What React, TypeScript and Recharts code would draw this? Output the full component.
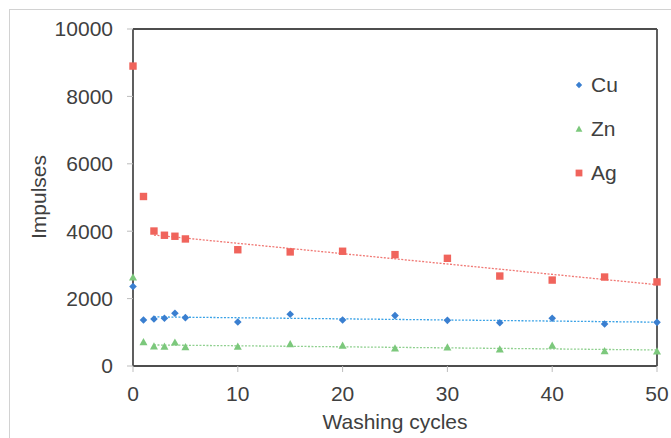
import React from 'react';
import {
  ComposedChart, Scatter, Line, XAxis, YAxis, ReferenceLine, Label,
} from 'recharts';

// washing cycles
const CYCLES = [0, 1, 2, 3, 4, 5, 10, 15, 20, 25, 30, 35, 40, 45, 50];

// impulses per element
const CU = [2360, 1365, 1395, 1415, 1565, 1435, 1305, 1535, 1365, 1495, 1355, 1285, 1415, 1245, 1295];
const ZN = [2630, 710, 585, 575, 700, 565, 575, 655, 605, 525, 555, 495, 605, 445, 435];
const AG = [8900, 5030, 4005, 3880, 3850, 3770, 3450, 3385, 3405, 3305, 3195, 2670, 2550, 2640, 2495];

const X_TICKS = [0, 10, 20, 30, 40, 50];
const Y_TICKS = [0, 2000, 4000, 6000, 8000, 10000];

// trend lines are fitted from cycle 2 on
const TREND_FROM = 2;

const FONT = '"Liberation Sans", Arial, sans-serif';
const TEXT = '#404040';
const FRAME = '#4d4d4d';
const TICK = '#bdbdbd';

const COLORS = {
  Cu: { mark: '#3a7fd0', trend: '#3aa2e6' },
  Zn: { mark: '#7cc87c', trend: '#8fd08f' },
  Ag: { mark: '#f0645c', trend: '#f07874' },
};

function toPoints(ys: number[]) {
  return CYCLES.map((x, i) => ({ x, y: ys[i] }));
}

// least squares fit over the points from TREND_FROM on
function trend(ys: number[]) {
  const pts = toPoints(ys).filter((p) => p.x >= TREND_FROM);
  const n = pts.length;
  const mx = pts.reduce((s, p) => s + p.x, 0) / n;
  const my = pts.reduce((s, p) => s + p.y, 0) / n;
  let sxy = 0;
  let sxx = 0;
  pts.forEach((p) => {
    sxy += (p.x - mx) * (p.y - my);
    sxx += (p.x - mx) * (p.x - mx);
  });
  const b = sxy / sxx;
  const a = my - b * mx;
  const x0 = pts[0].x;
  const x1 = pts[n - 1].x;
  return [{ x: x0, y: a + b * x0 }, { x: x1, y: a + b * x1 }];
}

function Diamond({ cx, cy, fill, r = 3.8 }: any) {
  if (cx == null || cy == null) return null;
  return <polygon points={`${cx},${cy - r} ${cx + r},${cy} ${cx},${cy + r} ${cx - r},${cy}`} fill={fill} />;
}

function Triangle({ cx, cy, fill, r = 4 }: any) {
  if (cx == null || cy == null) return null;
  return <polygon points={`${cx},${cy - r} ${cx + r},${cy + r * 0.8} ${cx - r},${cy + r * 0.8}`} fill={fill} />;
}

function Square({ cx, cy, fill, r = 3.7 }: any) {
  if (cx == null || cy == null) return null;
  return <rect x={cx - r} y={cy - r} width={2 * r} height={2 * r} fill={fill} />;
}

const LEGEND_ITEMS = [
  { name: 'Cu', Shape: Diamond, r: 3.2 },
  { name: 'Zn', Shape: Triangle, r: 3.4 },
  { name: 'Ag', Shape: Square, r: 3.4 },
];

function LegendBox() {
  return (
    <div style={{ position: 'absolute', left: 573, top: 63, fontFamily: FONT, fontSize: 21, color: TEXT }}>
      {LEGEND_ITEMS.map(({ name, Shape, r }) => (
        <div key={name} style={{ display: 'flex', alignItems: 'center', height: 44 }}>
          <svg width={12} height={12} style={{ display: 'block' }}>
            <Shape cx={6} cy={6} r={r} fill={COLORS[name as keyof typeof COLORS].mark} />
          </svg>
          <span style={{ marginLeft: 6, lineHeight: '44px' }}>{name}</span>
        </div>
      ))}
    </div>
  );
}

const tickStyle = { fontFamily: FONT, fontSize: 21, fill: TEXT };

export default function App() {
  return (
    <div style={{ position: 'absolute', left: 0, top: 0, width: 671, height: 438, background: '#fff', overflow: 'hidden' }}>
      <div
        style={{
          position: 'absolute', left: 9, top: 9, width: 662, height: 429,
          borderLeft: '1px solid #d2d2d2', borderTop: '1px solid #d2d2d2',
        }}
      />
      <div style={{ position: 'absolute', left: 0, top: 0 }}>
        <ComposedChart width={671} height={438} margin={{ top: 29, right: 14, bottom: 0, left: 0 }}>
          <XAxis
            type="number"
            dataKey="x"
            domain={[0, 50]}
            ticks={X_TICKS}
            height={72}
            tick={tickStyle}
            tickSize={6}
            tickMargin={14}
            axisLine={{ stroke: FRAME, strokeWidth: 1.8 }}
            tickLine={{ stroke: TICK }}
          >
            <Label
              content={() => (
                <text x={395} y={429} textAnchor="middle" fontFamily={FONT} fontSize={21} fill={TEXT}>
                  Washing cycles
                </text>
              )}
            />
          </XAxis>
          <YAxis
            type="number"
            dataKey="y"
            domain={[0, 10000]}
            ticks={Y_TICKS}
            width={133}
            tick={tickStyle}
            tickSize={6}
            tickMargin={14}
            axisLine={{ stroke: FRAME, strokeWidth: 1.8 }}
            tickLine={{ stroke: TICK }}
          >
            <Label
              content={() => (
                <text
                  x={38}
                  y={197}
                  transform="rotate(-90 38 197)"
                  textAnchor="middle"
                  dominantBaseline="central"
                  fontFamily={FONT}
                  fontSize={21}
                  fill={TEXT}
                >
                  Impulses
                </text>
              )}
            />
          </YAxis>
          <ReferenceLine y={10000} stroke={FRAME} strokeWidth={1.8} />
          <ReferenceLine x={50} stroke={FRAME} strokeWidth={1.8} />

          <Line data={trend(AG)} dataKey="y" stroke={COLORS.Ag.trend} strokeWidth={1.3} strokeDasharray="2 1.5" dot={false} isAnimationActive={false} />
          <Line data={trend(CU)} dataKey="y" stroke={COLORS.Cu.trend} strokeWidth={1.3} strokeDasharray="2 1.5" dot={false} isAnimationActive={false} />
          <Line data={trend(ZN)} dataKey="y" stroke={COLORS.Zn.trend} strokeWidth={1.3} strokeDasharray="2 1.5" dot={false} isAnimationActive={false} />

          <Scatter name="Zn" data={toPoints(ZN)} fill={COLORS.Zn.mark} shape={(p: any) => <Triangle {...p} />} isAnimationActive={false} />
          <Scatter name="Cu" data={toPoints(CU)} fill={COLORS.Cu.mark} shape={(p: any) => <Diamond {...p} />} isAnimationActive={false} />
          <Scatter name="Ag" data={toPoints(AG)} fill={COLORS.Ag.mark} shape={(p: any) => <Square {...p} />} isAnimationActive={false} />
        </ComposedChart>
      </div>
      <LegendBox />
    </div>
  );
}
